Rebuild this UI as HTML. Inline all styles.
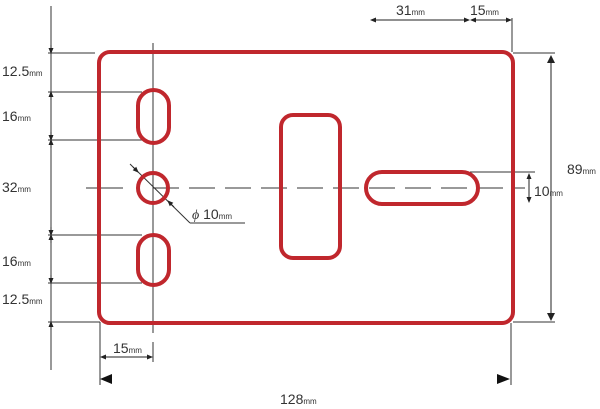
<!DOCTYPE html>
<html><head><style>body{margin:0;background:#fff}svg{display:block}text{font-family:"Liberation Sans",sans-serif;fill:#333}</style></head>
<body>
<svg width="600" height="409" viewBox="0 0 600 409">
<defs>
<marker id="a" markerWidth="6" markerHeight="6" refX="5" refY="3" orient="auto-start-reverse"><path d="M0,0.5 L6,3 L0,5.5z" fill="#222"/></marker>
<marker id="b" markerWidth="8" markerHeight="8" refX="7" refY="4" orient="auto-start-reverse" markerUnits="userSpaceOnUse"><path d="M0,0 L8,4 L0,8z" fill="#222" transform="scale(1)"/></marker>
</defs>
<g stroke="#333" stroke-width="1" fill="none">
<line x1="51" y1="6" x2="51" y2="370"/>
<line x1="48" y1="53" x2="95" y2="53"/>
<line x1="48" y1="92" x2="142" y2="92"/>
<line x1="48" y1="140" x2="142" y2="140"/>
<line x1="48" y1="235" x2="142" y2="235"/>
<line x1="48" y1="283" x2="142" y2="283"/>
<line x1="48" y1="322" x2="100" y2="322"/>
<line x1="100" y1="322" x2="100" y2="385"/>
<line x1="511" y1="323" x2="511" y2="385"/>
<line x1="513" y1="53" x2="555" y2="53"/>
<line x1="513" y1="322" x2="555" y2="322"/>
<line x1="512" y1="18" x2="512" y2="52"/>
<line x1="153" y1="43" x2="153" y2="333"/>
<line x1="153" y1="342" x2="153" y2="362"/>
<line x1="86" y1="188" x2="123" y2="188"/>
<line x1="153" y1="188" x2="525" y2="188" stroke-dasharray="26,10"/>
<line x1="470" y1="172" x2="535" y2="172"/>
<line x1="130" y1="164" x2="190" y2="223"/>
<line x1="190" y1="223" x2="245" y2="223"/>
</g>
<g stroke="#222" stroke-width="1">
<line x1="51" y1="45" x2="51" y2="53" marker-end="url(#a)"/>
<line x1="51" y1="92" x2="51" y2="100" marker-start="url(#a)"/>
<line x1="51" y1="132" x2="51" y2="140" marker-end="url(#a)"/>
<line x1="51" y1="140" x2="51" y2="148" marker-start="url(#a)"/>
<line x1="51" y1="227" x2="51" y2="235" marker-end="url(#a)"/>
<line x1="51" y1="235" x2="51" y2="243" marker-start="url(#a)"/>
<line x1="51" y1="275" x2="51" y2="283" marker-end="url(#a)"/>
<line x1="51" y1="322" x2="51" y2="330" marker-start="url(#a)"/>
<line x1="101" y1="357" x2="152" y2="357" marker-start="url(#a)" marker-end="url(#a)"/>
<line x1="371" y1="20" x2="469" y2="20" marker-start="url(#a)" marker-end="url(#a)"/>
<line x1="471" y1="20" x2="511" y2="20" marker-start="url(#a)" marker-end="url(#a)"/>
<line x1="529" y1="174" x2="529" y2="202" marker-start="url(#a)" marker-end="url(#a)"/>
<line x1="551" y1="56" x2="551" y2="320" marker-start="url(#b)" marker-end="url(#b)"/>
<line x1="133" y1="167" x2="138" y2="172" marker-end="url(#a)"/>
<line x1="174" y1="207" x2="168" y2="201" marker-end="url(#a)"/>
</g>
<path d="M100,379 L112,374 L112,384z" fill="#111"/>
<path d="M510,379 L497,374 L497,384z" fill="#111"/>
<g stroke="#c0272d" stroke-width="4" fill="none">
<rect x="99" y="52" width="414" height="271" rx="11"/>
<rect x="138" y="90" width="31" height="53" rx="15.5"/>
<rect x="138" y="235" width="31" height="50" rx="15.5"/>
<circle cx="153" cy="188" r="15"/>
<rect x="281" y="115" width="59" height="143" rx="12"/>
<rect x="366" y="172" width="112" height="32" rx="16"/>
</g>
<g font-size="14">
<text x="2" y="76">12.5<tspan font-size="8">mm</tspan></text>
<text x="2" y="121">16<tspan font-size="8">mm</tspan></text>
<text x="2" y="192">32<tspan font-size="8">mm</tspan></text>
<text x="2" y="266">16<tspan font-size="8">mm</tspan></text>
<text x="2" y="304">12.5<tspan font-size="8">mm</tspan></text>
<text x="113" y="353">15<tspan font-size="8">mm</tspan></text>
<text x="396" y="15">31<tspan font-size="8">mm</tspan></text>
<text x="470" y="15">15<tspan font-size="8">mm</tspan></text>
<text x="567" y="174">89<tspan font-size="8">mm</tspan></text>
<text x="534" y="196">10<tspan font-size="8">mm</tspan></text>
<text x="280" y="404">128<tspan font-size="8">mm</tspan></text>
<text x="192" y="219"><tspan font-style="italic" font-family="Liberation Serif">ϕ</tspan> 10<tspan font-size="8">mm</tspan></text>
</g>
</svg>
</body></html>
